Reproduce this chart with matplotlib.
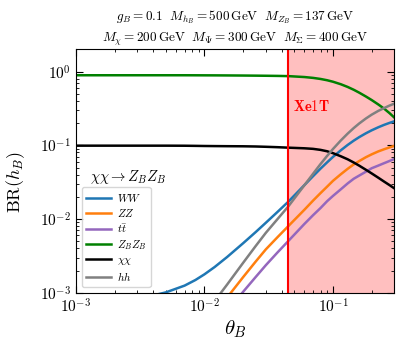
import numpy as np
import matplotlib
matplotlib.use("Agg")
import matplotlib.pyplot as plt

plt.rcParams['mathtext.fontset'] = 'cm'
plt.rcParams['font.family'] = 'serif'
plt.rcParams['font.serif'] = ['cmr10', 'DejaVu Serif']
plt.rcParams['axes.formatter.use_mathtext'] = True

theta = [0.001, 0.002, 0.003, 0.004, 0.005, 0.007, 0.0085, 0.01, 0.012, 0.015,
         0.02, 0.025, 0.03, 0.037, 0.045, 0.06, 0.07, 0.08, 0.09, 0.1,
         0.115, 0.13, 0.145, 0.16, 0.18, 0.2, 0.225, 0.25, 0.275, 0.3]

br_ww = [7.3e-4, 7.9e-4, 8.5e-4, 9.2e-4, 1.01e-3, 1.248e-3, 1.487e-3, 1.778e-3, 2.233e-3, 3.051e-3,
         4.70e-3, 6.64e-3, 8.89e-3, 0.01249, 0.01725, 0.02894, 0.0382, 0.0483, 0.0588, 0.0697,
         0.0856, 0.1012, 0.1158, 0.1293, 0.1455, 0.160, 0.1758, 0.1897, 0.2016, 0.2120]
br_zz = [3.8e-6, 1.5e-5, 3.4e-5, 6.1e-5, 9.6e-5, 1.9e-4, 2.75e-4, 3.8e-4, 5.5e-4, 8.6e-4,
         1.63e-3, 2.64e-3, 3.87e-3, 5.67e-3, 8.04e-3, 0.0134, 0.0178, 0.0225, 0.0275, 0.033,
         0.0405, 0.048, 0.0551, 0.0612, 0.0689, 0.0755, 0.0827, 0.0885, 0.0937, 0.0983]
br_tt = [2.6e-6, 1.0e-5, 2.3e-5, 4.2e-5, 6.5e-5, 1.27e-4, 1.85e-4, 2.6e-4, 3.7e-4, 5.6e-4,
         1.03e-3, 1.63e-3, 2.36e-3, 3.52e-3, 5.05e-3, 8.6e-3, 0.01128, 0.0141, 0.01746, 0.0206,
         0.0253, 0.0304, 0.0352, 0.0389, 0.0438, 0.0489, 0.0531, 0.0573, 0.0613, 0.0653]
br_zbzb = [0.894, 0.894, 0.894, 0.894, 0.894, 0.894, 0.893, 0.892, 0.891, 0.889,
           0.886, 0.883, 0.880, 0.876, 0.870, 0.8453, 0.8233, 0.7963, 0.7650, 0.7302,
           0.6752, 0.6206, 0.5681, 0.5188, 0.4611, 0.4120, 0.3592, 0.3148, 0.2742, 0.2385]
br_chi = [0.0990, 0.0990, 0.0990, 0.0990, 0.0990, 0.0988, 0.0984, 0.0980, 0.0977, 0.0974,
          0.0971, 0.0965, 0.0956, 0.0944, 0.0930, 0.0912, 0.0896, 0.0868, 0.0831, 0.0783,
          0.0711, 0.0647, 0.0585, 0.0530, 0.0467, 0.0416, 0.0364, 0.0322, 0.0289, 0.0261]
br_hh = [3e-6, 1.4e-5, 3.5e-5, 6.6e-5, 1.1e-4, 2.3e-4, 3.5e-4, 5.0e-4, 7.7e-4, 1.29e-3,
         2.55e-3, 4.29e-3, 6.49e-3, 9.98e-3, 0.0149, 0.02887, 0.04115, 0.0558, 0.0719, 0.0892,
         0.1164, 0.1442, 0.1717, 0.1981, 0.2309, 0.2608, 0.2934, 0.3209, 0.3463, 0.3680]

labels = [r'$WW$', r'$ZZ$', r'$t\bar{t}$', r'$Z_BZ_B$', r'$\chi\chi$', r'$hh$']
colors = ['tab:blue', 'tab:orange', 'tab:purple', 'green', 'black', 'gray']

xe1t = 0.045
theta_max = 0.3

fig = plt.figure(figsize=(4.07, 3.5), dpi=100)
ax = fig.add_axes([0.1867, 0.1637, 0.7821, 0.6949])

for y, lab, c in zip([br_ww, br_zz, br_tt, br_zbzb, br_chi, br_hh], labels, colors):
    ax.plot(theta, y, color=c, lw=1.8, label=lab)

ax.axvspan(xe1t, theta_max, color='red', alpha=0.25, lw=0)
ax.axvline(xe1t, color='red', lw=1.5)
ax.text(0.0489, 0.342, r'$\mathbf{Xe1T}$', color='red', fontsize=10.5, va='center')
ax.text(0.00128, 0.037, r'$\chi\chi\rightarrow Z_BZ_B$', fontsize=10.5, va='center')

ax.set_xscale('log')
ax.set_yscale('log')
ax.set_xlim(1e-3, theta_max)
ax.set_ylim(1e-3, 2)
ax.set_xlabel(r'$\theta_B$', fontsize=15, labelpad=2)
ax.set_ylabel(r'$\mathrm{BR}(h_B)$', fontsize=13)
ax.yaxis.set_label_coords(-0.155, 0.455)
ax.tick_params(which='both', direction='in', top=True, right=True, labelsize=11)
ax.tick_params(which='major', length=5)
ax.tick_params(which='minor', length=2.5)

ax.legend(loc='lower left', fontsize=8, handlelength=2.25, handletextpad=0.5,
          borderpad=0.4, labelspacing=0.28)

fig.text(0.578, 0.952, r'$g_B=0.1\ \ M_{h_B}=500\,\mathrm{GeV}\ \ M_{Z_B}=137\,\mathrm{GeV}$',
         ha='center', va='center', fontsize=9.5)
fig.text(0.578, 0.888, r'$M_{\chi}=200\,\mathrm{GeV}\ \ M_{\Psi}=300\,\mathrm{GeV}\ \ M_{\Sigma}=400\,\mathrm{GeV}$',
         ha='center', va='center', fontsize=9.5)

fig.savefig('out.png', dpi=100)
